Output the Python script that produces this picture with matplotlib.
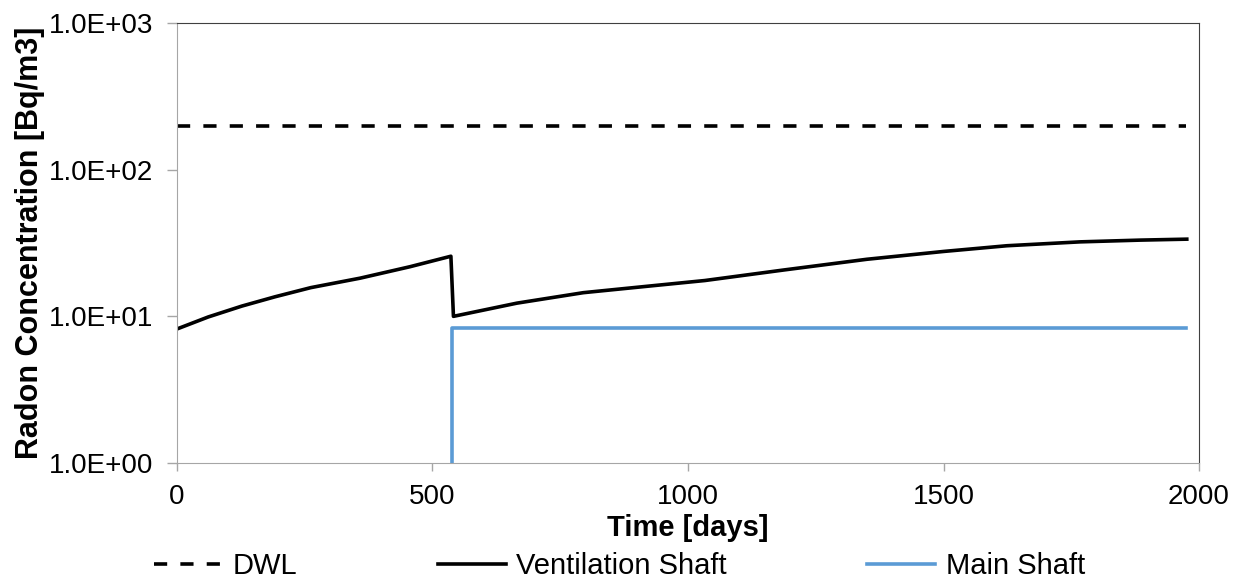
import matplotlib.pyplot as plt
from matplotlib.ticker import FixedLocator, FuncFormatter, NullLocator

plt.rcParams['font.family'] = ['Liberation Sans', 'DejaVu Sans']

# data
dwl_days = [0, 1975]
dwl_conc = [200, 200]

vent_days = [0, 61, 127, 192, 262, 358, 456, 536, 541, 665, 795, 925, 1033,
             1187, 1350, 1500, 1624, 1767, 1885, 1976]
vent_conc = [8.2, 9.9, 11.75, 13.6, 15.7, 18.2, 21.8, 25.7, 10.0, 12.3, 14.5, 16.1, 17.55,
             20.7, 24.5, 27.7, 30.3, 32.2, 33.1, 33.6]

main_days = [539, 539, 1975]
main_conc = [1.0, 8.3, 8.3]

y_ticks = [1, 10, 100, 1000]
x_ticks = [0, 500, 1000, 1500, 2000]

GRAY = '#a6a6a6'
DARK = '#404040'
LW = 2.6

fig = plt.figure(figsize=(12.41, 5.80), dpi=100)
ax = fig.add_axes([0.1426, 0.2017, 0.8236, 0.7586])

ax.plot(dwl_days, dwl_conc, color='black', linewidth=LW, dashes=(3.65, 3.65), label='DWL')
ax.plot(vent_days, vent_conc, color='black', linewidth=LW, label='Ventilation Shaft')
ax.plot(main_days, main_conc, color='#5b9bd5', linewidth=LW, label='Main Shaft')

ax.set_yscale('log')
ax.set_ylim(1, 1000)
ax.set_xlim(0, 2000)
ax.yaxis.set_major_locator(FixedLocator(y_ticks))
ax.yaxis.set_minor_locator(NullLocator())
ax.yaxis.set_major_formatter(FuncFormatter(lambda v, p: '%.1E' % v))
ax.set_xticks(x_ticks)

ax.spines['left'].set_color(GRAY)
ax.spines['bottom'].set_color(GRAY)
ax.spines['top'].set_color(DARK)
ax.spines['right'].set_color(DARK)
ax.tick_params(axis='both', direction='out', color=GRAY, labelsize=20, width=1)
ax.tick_params(axis='y', length=7, pad=10)
ax.tick_params(axis='x', length=6, pad=9)

ax.set_xlabel('Time [days]', fontsize=21, fontweight='bold', labelpad=3)
ax.set_ylabel('Radon Concentration [Bq/m3]', fontsize=22, fontweight='bold', labelpad=3)

fig.legend(loc='center', bbox_to_anchor=(0.4992, 0.024), ncol=3, frameon=False,
           fontsize=21, handlelength=2.35, handletextpad=0.35, columnspacing=4.8,
           borderpad=0, borderaxespad=0)

fig.savefig('out.png', dpi=100)
